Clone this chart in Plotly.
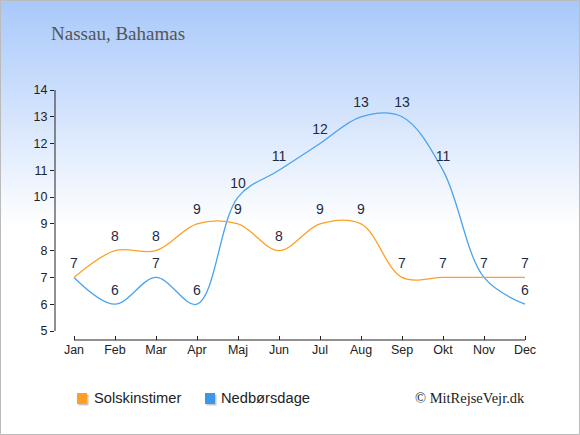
import base64
import plotly.graph_objects as go

# data
months = ["Jan", "Feb", "Mar", "Apr", "Maj", "Jun", "Jul", "Aug", "Sep", "Okt", "Nov", "Dec"]
sun_hours = [7, 8, 8, 9, 9, 8, 9, 9, 7, 7, 7, 7]
rain_days = [7, 6, 7, 6, 10, 11, 12, 13, 13, 11, 7, 6]
# labels hidden where both series share the same value
rain_hidden = [0, 10]

ORANGE = "#FFA024"
BLUE = "#4AA3EE"
TEXT = "#1E2B45"

W, H = 580, 435
L, R, T, B = 55, 51, 90, 95
PW, PH = W - L - R, H - T - B


def px(x):
    return (x - L) / PW


def py(y):
    return (H - B - y) / PH


xs = list(range(len(months)))
rain_text = ["" if i in rain_hidden else str(v) for i, v in enumerate(rain_days)]

fig = go.Figure()
fig.add_trace(go.Scatter(
    x=xs, y=rain_days, mode="lines+markers+text", text=rain_text,
    textposition="top center", textfont=dict(size=14, color=TEXT, family="Liberation Sans"),
    line=dict(color=BLUE, width=1.3, shape="spline", smoothing=1.0),
    marker=dict(size=8, color="rgba(0,0,0,0)"),
    cliponaxis=False, showlegend=False, hoverinfo="skip",
))
fig.add_trace(go.Scatter(
    x=xs, y=sun_hours, mode="lines+markers+text", text=[str(v) for v in sun_hours],
    textposition="top center", textfont=dict(size=14, color=TEXT, family="Liberation Sans"),
    line=dict(color=ORANGE, width=1.3, shape="spline", smoothing=1.0),
    marker=dict(size=8, color="rgba(0,0,0,0)"),
    cliponaxis=False, showlegend=False, hoverinfo="skip",
))

svg = ('<svg xmlns="http://www.w3.org/2000/svg" width="580" height="435">'
       '<defs><linearGradient id="g" x1="0" y1="0" x2="0" y2="1">'
       '<stop offset="0" stop-color="#A8C8FA"/><stop offset="0.52" stop-color="#FFFFFF"/>'
       '</linearGradient></defs><rect width="580" height="435" fill="url(#g)"/></svg>')
bg = "data:image/svg+xml;base64," + base64.b64encode(svg.encode()).decode()

shapes = [
    # y axis line from 5 to 14
    dict(type="line", xref="paper", yref="y", x0=0, x1=0, y0=5, y1=14,
         line=dict(color="#222", width=1)),
    # x axis line Jan..Dec
    dict(type="line", xref="x", yref="paper", x0=0, x1=11, y0=0, y1=0,
         line=dict(color="#222", width=1)),
    # frame
    dict(type="rect", xref="paper", yref="paper", x0=px(0.5), x1=px(W - 0.5),
         y0=py(H - 0.5), y1=py(0.5), line=dict(color="#BBBBBB", width=1)),
]
# legend squares with a small shadow
for x0, col in [(77, ORANGE), (205, "#3B97EA")]:
    shapes.append(dict(type="rect", xref="paper", yref="paper", x0=px(x0 + 1.5), x1=px(x0 + 11.5),
                       y0=py(405.5), y1=py(394.5), fillcolor="#C8C8C8", line=dict(width=0)))
    shapes.append(dict(type="rect", xref="paper", yref="paper", x0=px(x0), x1=px(x0 + 10),
                       y0=py(404), y1=py(393), fillcolor=col, line=dict(width=0)))

annotations = [
    dict(text="Nassau, Bahamas", xref="paper", yref="paper", x=px(49), y=py(33),
         xanchor="left", yanchor="middle", showarrow=False,
         font=dict(family="Liberation Serif", size=19, color="#555555")),
    dict(text="© MitRejseVejr.dk", xref="paper", yref="paper", x=px(527), y=py(398),
         xanchor="right", yanchor="middle", showarrow=False,
         font=dict(family="Liberation Serif", size=14.5, color="#222222")),
    dict(text="Solskinstimer", xref="paper", yref="paper", x=px(92), y=py(398),
         xanchor="left", yanchor="middle", showarrow=False,
         font=dict(family="Liberation Sans", size=14.7, color="#222222")),
    dict(text="Nedbørsdage", xref="paper", yref="paper", x=px(219), y=py(398),
         xanchor="left", yanchor="middle", showarrow=False,
         font=dict(family="Liberation Sans", size=14.7, color="#222222")),
]

fig.update_layout(
    width=W, height=H,
    margin=dict(l=L, r=R, t=T, b=B),
    paper_bgcolor="white", plot_bgcolor="rgba(0,0,0,0)",
    images=[dict(source=bg, xref="paper", yref="paper", x=px(0), y=py(0),
                 sizex=W / PW, sizey=H / PH, sizing="stretch",
                 xanchor="left", yanchor="top", layer="below")],
    shapes=shapes, annotations=annotations, showlegend=False,
    xaxis=dict(range=[(L - 74) / 41, 11 + (W - R - 525) / 41], tickvals=xs, ticktext=months,
               showgrid=False, zeroline=False, showline=False,
               ticks="inside", ticklen=4, tickcolor="#222",
               tickfont=dict(family="Liberation Sans", size=12.5, color="#222")),
    yaxis=dict(range=[5 - 9 / 26.78, 14], tickvals=list(range(5, 15)),
               showgrid=False, zeroline=False, showline=False,
               ticks="outside", ticklen=4, tickcolor="#222",
               tickfont=dict(family="Liberation Sans", size=12.5, color="#222")),
)

fig.write_html("out.html", config={"displayModeBar": False},
               post_script="document.body.style.margin='0';")
